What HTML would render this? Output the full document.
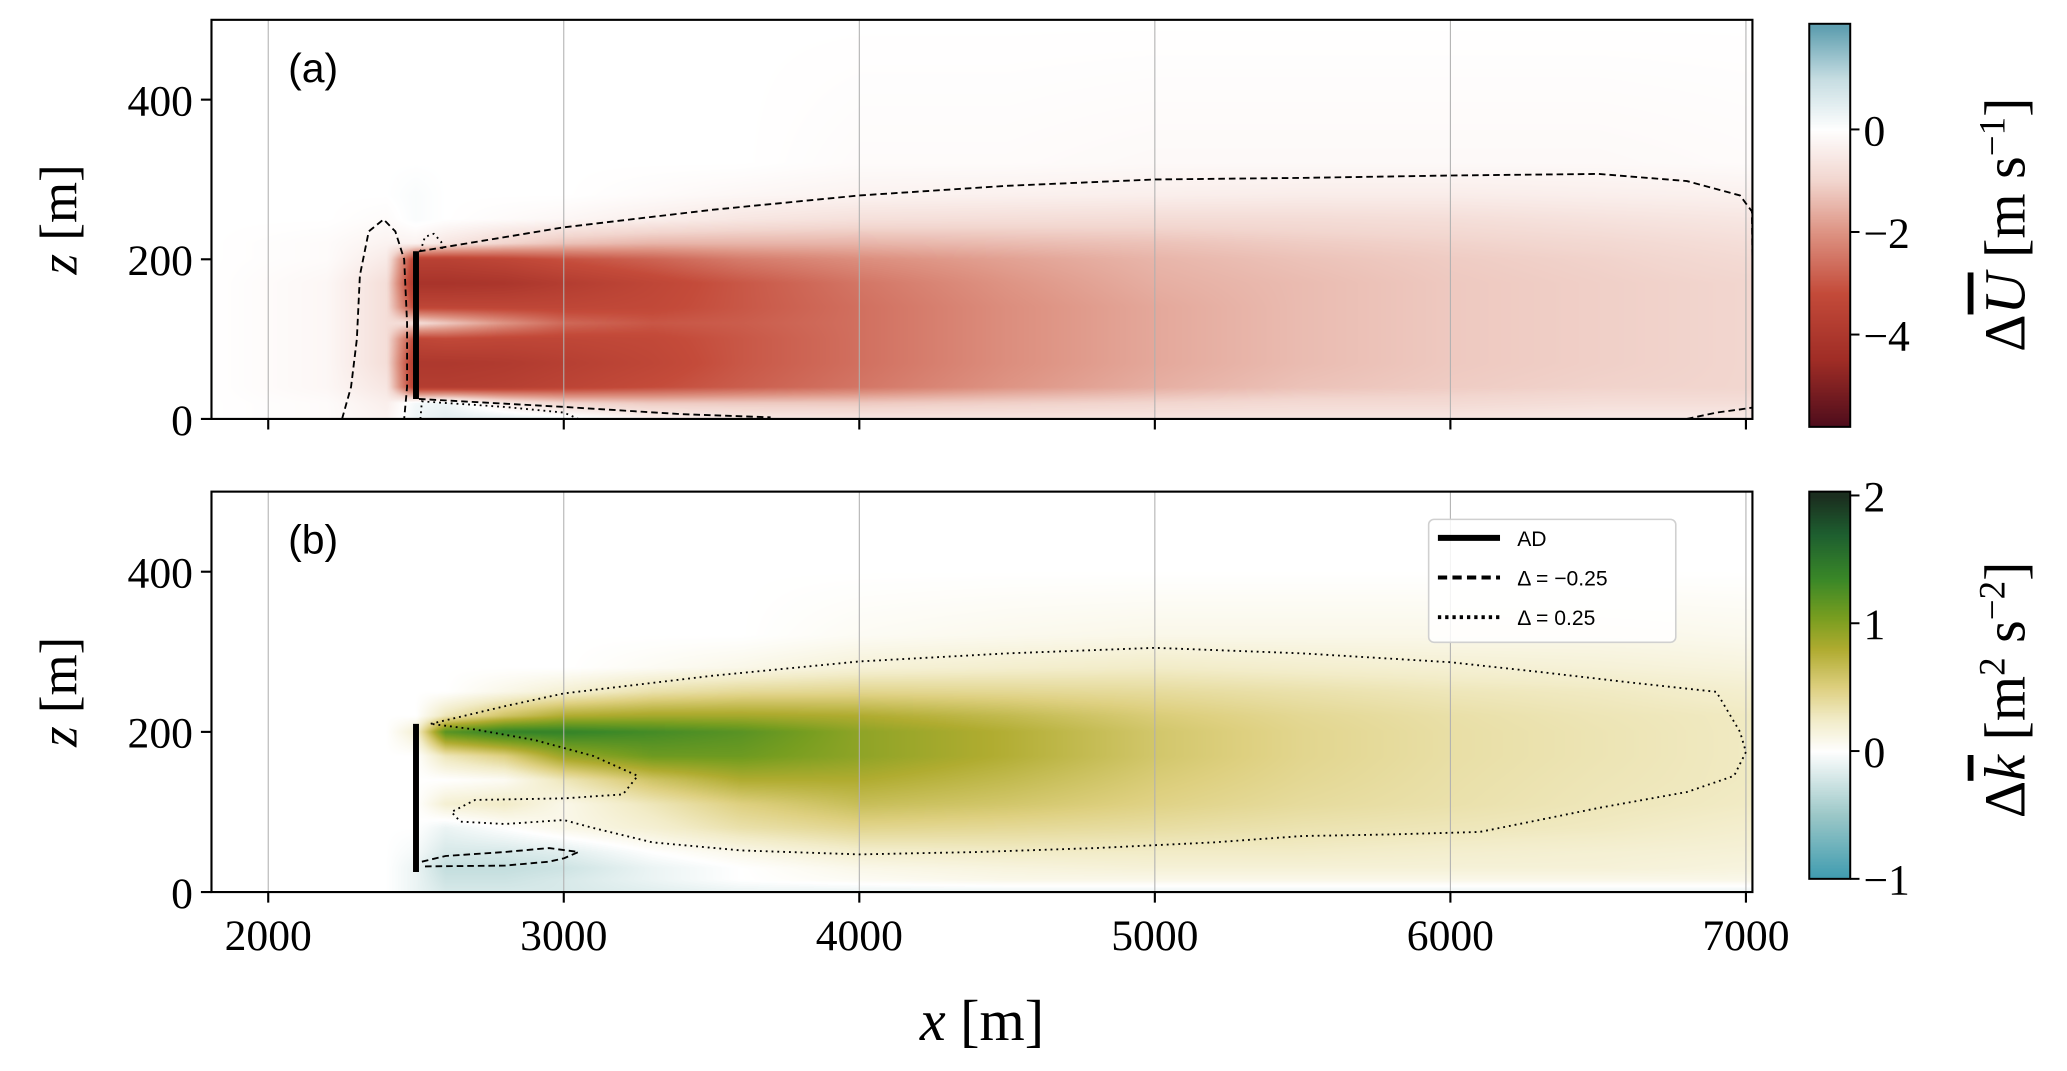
<!DOCTYPE html>
<html><head><meta charset="utf-8">
<style>
html,body{margin:0;padding:0;background:#fff;}
#wrap{position:relative;width:2067px;height:1071px;overflow:hidden;}
canvas,svg{position:absolute;left:0;top:0;}
.tk{font-family:"Liberation Serif",serif;font-size:33px;fill:#000;}
.lab{font-family:"Liberation Serif",serif;fill:#000;}
.pl{font-family:"Liberation Sans",sans-serif;font-size:31px;fill:#000;}
.lg{font-family:"Liberation Sans",sans-serif;font-size:16px;fill:#000;}
</style></head>
<body>
<div id="wrap">
<canvas id="cv" width="2067" height="1071"></canvas>
<svg id="sv" width="2067" height="1071" viewBox="0 0 1564 810.4"></svg>
</div>
<script>
// ---------- DATA ----------
const xsA = [1800,2200,2400,2500,2600,2800,3000,3300,3600,4000,4500,5000,5500,6000,6500,7000];
const zsA = [0,20,40,70,100,120,140,170,200,220,250,280,320,500];
const valsA = [
[0,-0.1,-0.3,0.3,0.5,0.4,0.2,-0.3,-0.5,-0.6,-0.6,-0.6,-0.6,-0.6,-0.5,-0.5],
[0,-0.1,-0.4,0.2,0.3,-0.5,-1,-1.2,-1.2,-1.2,-1.1,-1.0,-0.9,-0.9,-0.8,-0.8],
[0,-0.2,-0.6,-3.8,-3.8,-3.7,-3.5,-3.2,-2.9,-2.5,-2.0,-1.6,-1.3,-1.15,-1.05,-1.0],
[0,-0.2,-0.8,-4,-4,-3.9,-3.7,-3.4,-3.0,-2.6,-2.1,-1.7,-1.4,-1.2,-1.1,-1.0],
[0,-0.2,-0.8,-3.4,-3.3,-3.4,-3.4,-3.3,-3.0,-2.6,-2.1,-1.7,-1.4,-1.2,-1.1,-1.0],
[0,-0.2,-0.8,-0.8,-1.2,-2,-2.7,-3,-2.9,-2.6,-2.1,-1.7,-1.4,-1.2,-1.1,-1.0],
[0,-0.2,-0.8,-3.4,-3.4,-3.4,-3.4,-3.3,-3.0,-2.6,-2.1,-1.7,-1.4,-1.2,-1.1,-1.0],
[0,-0.2,-0.8,-4.2,-4.2,-4.1,-3.8,-3.4,-3.0,-2.5,-2.0,-1.6,-1.4,-1.2,-1.1,-1.0],
[0,-0.1,-0.5,-3.6,-3.6,-3.4,-3.1,-2.8,-2.4,-2.1,-1.8,-1.5,-1.3,-1.15,-1.05,-0.9],
[0,-0.1,-0.3,-0.3,-0.6,-1,-1.3,-1.5,-1.5,-1.5,-1.4,-1.3,-1.15,-1.05,-0.95,-0.8],
[0,0,-0.1,0.1,0,-0.1,-0.2,-0.4,-0.6,-0.75,-0.8,-0.85,-0.85,-0.8,-0.7,-0.6],
[0,0,0,0.1,0,0,0,-0.1,-0.2,-0.3,-0.35,-0.4,-0.45,-0.45,-0.4,-0.35],
[0,0,0,0,0,0,0,0,0,-0.1,-0.1,-0.15,-0.15,-0.15,-0.15,-0.1],
[0,0,0,0,0,0,0,0,0,0,0,0,0,0,0,0]];
const xsB = [1800,2400,2500,2600,2800,3000,3300,3600,4000,4500,5000,5500,6000,6500,7000];
const zsB = [0,15,30,50,80,110,140,170,200,220,250,280,320,400,500];
const valsB = [
[0,0,-0.1,-0.2,-0.2,-0.2,-0.15,-0.1,-0.1,-0.1,-0.1,-0.1,-0.1,-0.1,-0.1],
[0,0,-0.1,-0.25,-0.25,-0.2,-0.1,0,0.05,0.1,0.1,0.1,0.1,0.1,0.1],
[0,0,-0.1,-0.3,-0.3,-0.25,-0.1,0,0.1,0.15,0.18,0.18,0.18,0.18,0.15],
[0,0,-0.05,-0.2,-0.2,-0.15,0,0.1,0.22,0.25,0.25,0.25,0.22,0.2,0.18],
[0,0,0,-0.1,0,0.1,0.2,0.35,0.45,0.42,0.38,0.33,0.3,0.27,0.22],
[0,0,0,0.2,0.25,0.1,0.3,0.5,0.65,0.58,0.48,0.4,0.35,0.3,0.26],
[0,0,0,0,0.05,0.3,0.6,0.8,0.8,0.68,0.53,0.43,0.36,0.31,0.27],
[0,0,0,0.3,0.5,0.9,1.1,1.1,0.95,0.78,0.58,0.45,0.37,0.32,0.27],
[0,0,0.2,1.2,1.4,1.4,1.3,1.2,0.95,0.78,0.58,0.45,0.37,0.32,0.27],
[0,0,0,0.3,0.6,0.8,0.85,0.85,0.8,0.68,0.53,0.43,0.36,0.31,0.27],
[0,0,0,0,0.1,0.2,0.35,0.42,0.45,0.43,0.4,0.35,0.3,0.27,0.22],
[0,0,0,0,0,0,0.05,0.1,0.18,0.22,0.25,0.22,0.2,0.18,0.15],
[0,0,0,0,0,0,0,0,0.05,0.08,0.1,0.1,0.1,0.1,0.08],
[0,0,0,0,0,0,0,0,0,0,0,0,0,0,0],
[0,0,0,0,0,0,0,0,0,0,0,0,0,0,0]];
const xTicks = [2000,3000,4000,5000,6000,7000];
const zTicks = [0,200,400];
const cbTicksA = [0,-2,-4];
const cbTicksB = [2,1,0,-1];
// contours (data coords)
const dashA1 = [[2250,0],[2280,40],[2300,100],[2310,180],[2340,235],[2390,250],[2430,235],[2460,200],[2470,120],[2470,40],[2460,0]];
const dashA2 = [[2510,210],[3000,240],[3500,262],[4000,280],[4500,292],[5000,300],[5500,302],[6000,305],[6500,307],[6800,298],[6980,280],[7020,260],[7025,100],[7025,0]];
const dashA3 = [[2510,25],[3000,15],[3400,6],[3700,2]];
const dashA4 = [[6800,0],[6900,8],[6980,12],[7020,14]];
const dotA1 = [[2515,210],[2530,228],[2560,232],[2585,222],[2590,210]];
const dotA2 = [[2515,0],[2520,22],[2800,15],[3000,8],[3050,0]];
const dotB = [[2550,210],[2800,232],[3000,248],[3500,270],[4000,288],[4500,298],[5000,305],[5500,298],[6000,287],[6300,275],[6600,262],[6900,250],[6980,200],[7000,175],[6960,145],[6800,125],[6500,105],[6300,90],[6100,75],[5800,72],[5500,70],[5200,62],[4800,55],[4400,50],[4000,47],[3600,52],[3300,62],[3100,80],[3000,90],[2800,85],[2650,88],[2620,100],[2700,115],[3000,117],[3200,122],[3250,145],[3100,170],[2900,190],[2700,203],[2550,210]];
const dashB = [[2520,38],[2600,45],[2800,50],[2950,55],[3050,50],[3000,42],[2950,38],[2800,33],[2520,32]];

// ---------- LAYOUT (viewBox units) ----------
const K = 2067/1564;
const L = 160, R = 1326;
const panels = [{top:15,bot:317},{top:372,bot:675}];
const X0 = 1808, X1 = 7022;
const xs = v => L + (v - X0) / (X1 - X0) * (R - L);
const zs = (p, v) => panels[p].bot - v / 500 * (panels[p].bot - panels[p].top);

// ---------- COLORMAPS ----------
const cmA = [[-5.8,[78,13,28]],[-4.5,[160,45,38]],[-3.2,[196,75,58]],[-2,[222,148,132]],[-1,[242,214,207]],[0,[255,255,255]],[1,[198,221,226]],[2,[95,159,176]]];
const cmB = [[-1,[63,156,176]],[-0.5,[156,200,200]],[0,[255,255,255]],[0.25,[242,236,200]],[0.5,[222,208,128]],[0.8,[176,172,48]],[1.05,[120,158,32]],[1.35,[58,136,40]],[1.7,[30,95,48]],[2,[27,46,31]]];
function cmap(cm, v){
  if (v <= cm[0][0]) return cm[0][1];
  for (let i=1;i<cm.length;i++){
    if (v <= cm[i][0]){
      const t=(v-cm[i-1][0])/(cm[i][0]-cm[i-1][0]);
      return cm[i-1][1].map((c,j)=>c+(cm[i][1][j]-c)*t);
    }
  }
  return cm[cm.length-1][1];
}
function idx(arr, v){
  let i=0; while(i<arr.length-2 && v>arr[i+1]) i++;
  let t=(v-arr[i])/(arr[i+1]-arr[i]); t=Math.max(0,Math.min(1,t));
  return [i,t];
}
function interp(xa, za, vals, x, z){
  const [i,tx]=idx(xa,x), [j,tz]=idx(za,z);
  const a=vals[j][i], b=vals[j][i+1], c=vals[j+1][i], d=vals[j+1][i+1];
  return (a*(1-tx)+b*tx)*(1-tz)+(c*(1-tx)+d*tx)*tz;
}
const ctx = document.getElementById('cv').getContext('2d');
function drawHeat(p, xa, za, vals, cm){
  const px0=Math.round(L*K), px1=Math.round(R*K), py0=Math.round(panels[p].top*K), py1=Math.round(panels[p].bot*K);
  const w=px1-px0, h=py1-py0;
  const img=ctx.createImageData(w,h);
  for(let yy=0;yy<h;yy++){
    const z=(panels[p].bot-(py0+yy+0.5)/K)/(panels[p].bot-panels[p].top)*500;
    for(let xx=0;xx<w;xx++){
      const x=X0+((px0+xx+0.5)/K-L)/(R-L)*(X1-X0);
      const c=cmap(cm, interp(xa,za,vals,x,z));
      const o=(yy*w+xx)*4; img.data[o]=c[0];img.data[o+1]=c[1];img.data[o+2]=c[2];img.data[o+3]=255;
    }
  }
  ctx.putImageData(img,px0,py0);
}
drawHeat(0,xsA,zsA,valsA,cmA);
drawHeat(1,xsB,zsB,valsB,cmB);
// colorbars
function drawCb(x0,x1,y0,y1,vmin,vmax,cm){
  for(let y=Math.round(y0*K);y<Math.round(y1*K);y++){
    const v=vmax-(y/K-y0)/(y1-y0)*(vmax-vmin);
    const c=cmap(cm,v); ctx.fillStyle=`rgb(${c[0]|0},${c[1]|0},${c[2]|0})`;
    ctx.fillRect(Math.round(x0*K),y,Math.round((x1-x0)*K),1);
  }
}
const cbA={x0:1369,x1:1400,y0:18,y1:323,vmin:-5.8,vmax:2.06};
const cbB={x0:1369,x1:1400,y0:372,y1:665,vmin:-1,vmax:2.03};
drawCb(cbA.x0,cbA.x1,cbA.y0,cbA.y1,cbA.vmin,cbA.vmax,cmA);
drawCb(cbB.x0,cbB.x1,cbB.y0,cbB.y1,cbB.vmin,cbB.vmax,cmB);

// ---------- SVG ----------
const NS='http://www.w3.org/2000/svg';
const sv=document.getElementById('sv');
function el(tag, attrs, parent){
  const e=document.createElementNS(NS,tag);
  for(const k in attrs) e.setAttribute(k,attrs[k]);
  (parent||sv).appendChild(e); return e;
}
function pathOf(p, pts){ return pts.map((q,i)=>(i?'L':'M')+xs(q[0]).toFixed(1)+','+zs(p,q[1]).toFixed(1)).join(''); }

[0,1].forEach(p=>{
  const g=el('g',{});
  
  
  const top=panels[p].top, bot=panels[p].bot;
  const cid='clip'+p;
  const cp=el('clipPath',{id:cid},g); el('rect',{x:L,y:top,width:R-L,height:bot-top},cp);
  xTicks.forEach(t=>{
    const gl=el('line',{x1:xs(t),x2:xs(t),y1:top,y2:bot,stroke:'#b0b0b0','stroke-width':0.8},g);
    
    
    const tk=el('line',{x1:xs(t),x2:xs(t),y1:bot,y2:bot+8,stroke:'#000','stroke-width':1.6},g);
    
    
    if(p===1){
      const tx=el('text',{x:xs(t),y:bot+44,'text-anchor':'middle',class:'tk'},g); tx.textContent=t;
      
      
    }
  });
  zTicks.forEach(t=>{
    const tk=el('line',{x1:L-8,x2:L,y1:zs(p,t),y2:zs(p,t),stroke:'#000','stroke-width':1.6},g);
    
    
    const tx=el('text',{x:L-14,y:zs(p,t)+12,'text-anchor':'end',class:'tk'},g); tx.textContent=t;
    
    
  });
  const cg=el('g',{'clip-path':'url(#'+cid+')'},g);
  const conts = p===0 ? [[dashA1,'d'],[dashA2,'d'],[dashA3,'d'],[dashA4,'d'],[dotA1,'o'],[dotA2,'o']] : [[dotB,'o'],[dashB,'d']];
  conts.forEach(c=>{
    const pe=el('path',{d:pathOf(p,c[0]),fill:'none',stroke:'#000','stroke-width':1.4,'stroke-dasharray':c[1]==='d'?'5,3':'1.4,3'},cg);
    
    
  });
  const ad=el('line',{x1:xs(2500),x2:xs(2500),y1:zs(p,210),y2:zs(p,25),stroke:'#000','stroke-width':4.5},g);
  
  
  const fr=el('rect',{x:L,y:top,width:R-L,height:bot-top,fill:'none',stroke:'#000','stroke-width':1.6},g);
  
  
  const pl=el('text',{x:218,y:top+47,class:'pl'},g); pl.textContent=p?'(b)':'(a)';
  
  
  const yl=el('text',{x:0,y:0,class:'lab','font-size':40,'text-anchor':'middle',transform:`translate(58,${(top+bot)/2}) rotate(-90)`},g);
  yl.innerHTML='<tspan font-style="italic">z</tspan> [m]';
  
  
});
// x axis title
const xl=el('text',{x:743,y:787,class:'lab','font-size':44,'text-anchor':'middle'});
xl.innerHTML='<tspan font-style="italic">x</tspan> [m]';


// colorbars
[[cbA,cbTicksA,'colorbar-u'],[cbB,cbTicksB,'colorbar-k']].forEach(([cb,ticks,nm])=>{
  const g=el('g',{});
  
  
  el('rect',{x:cb.x0,y:cb.y0,width:cb.x1-cb.x0,height:cb.y1-cb.y0,fill:'none',stroke:'#000','stroke-width':1.5},g);
  ticks.forEach(t=>{
    const y=cb.y0+(cb.vmax-t)/(cb.vmax-cb.vmin)*(cb.y1-cb.y0);
    const tk=el('line',{x1:cb.x1,x2:cb.x1+7,y1:y,y2:y,stroke:'#000','stroke-width':1.5},g);
    
    
    const tx=el('text',{x:cb.x1+10,y:y+12,class:'tk'},g); tx.textContent=(t<0?'\u2212':'')+Math.abs(t);
    
    
  });
});
const ca=el('text',{x:0,y:0,class:'lab','font-size':44,'text-anchor':'middle',transform:'translate(1532,170) rotate(-90)'});
ca.innerHTML='\u0394<tspan font-style="italic" text-decoration="overline">U</tspan> [m s<tspan baseline-shift="super" font-size="28">\u22121</tspan>]';


const cbt=el('text',{x:0,y:0,class:'lab','font-size':44,'text-anchor':'middle',transform:'translate(1532,522) rotate(-90)'});
cbt.innerHTML='\u0394<tspan font-style="italic" text-decoration="overline">k</tspan> [m<tspan baseline-shift="super" font-size="28">2</tspan> s<tspan baseline-shift="super" font-size="28">\u22122</tspan>]';


// legend
const lg=el('g',{});


el('rect',{x:1081,y:393,width:187,height:93,rx:4,fill:'rgba(255,255,255,0.85)',stroke:'#d0d0d0','stroke-width':1.2},lg);
[['AD','','4.5'],['\u0394 = \u22120.25','7,4','3'],['\u0394 = 0.25','2.5,3','3']].forEach((e,i)=>{
  const y=407+i*30;
  const ln=el('line',{x1:1088,x2:1135,y1:y,y2:y,stroke:'#000','stroke-width':e[2],'stroke-dasharray':e[1]||'none'},lg);
  
  
  const tx=el('text',{x:1148,y:y+6,class:'lg'},lg); tx.textContent=e[0];
  
  
});
</script>
</body></html>
